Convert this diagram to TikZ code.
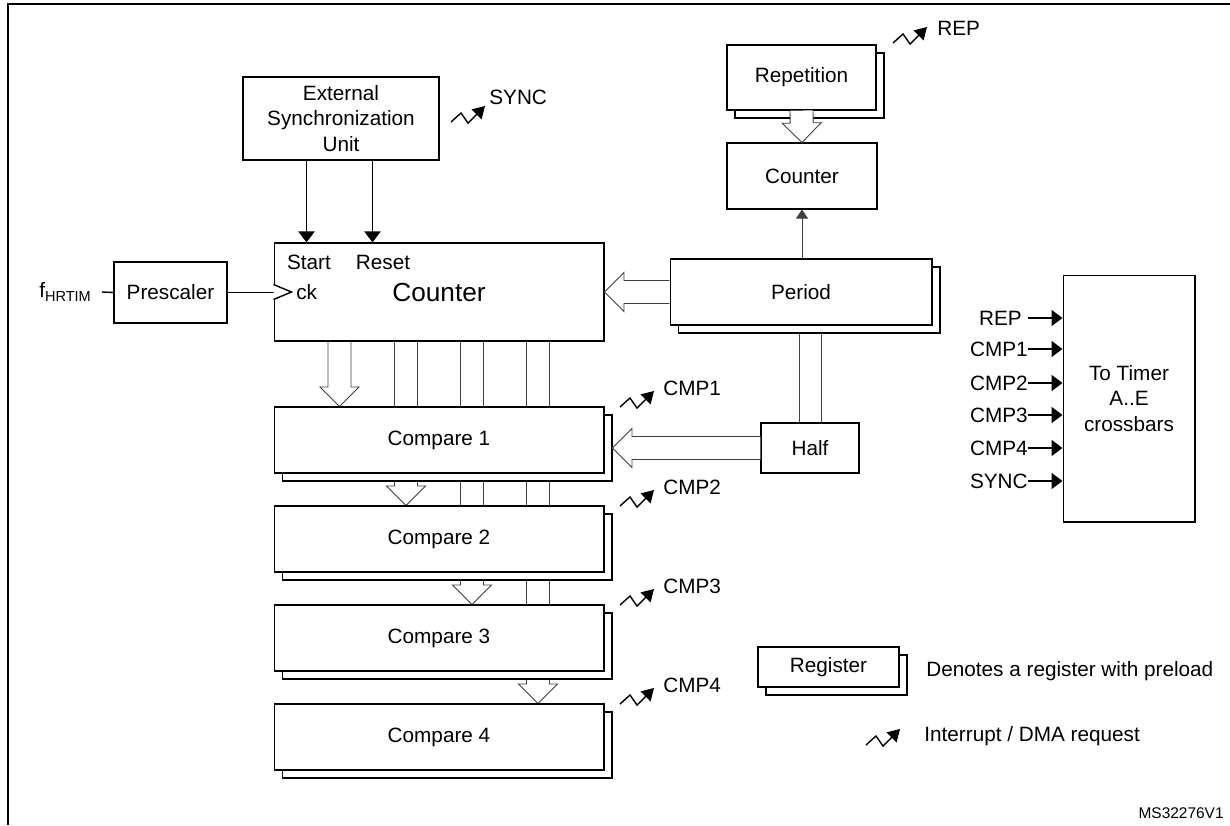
\documentclass[tikz,border=0pt]{standalone}
\usepackage{fontspec}
\setmainfont{Liberation Sans}
\usetikzlibrary{arrows.meta}
\usetikzlibrary{calc}
\usetikzlibrary{shadows}
\usetikzlibrary{backgrounds}
\tikzstyle{blk} = [rectangle, draw, fill=white, line width=0.6pt, inner sep=0pt, align=center]
\tikzstyle{reg} = [blk, copy shadow={shadow xshift=0.16cm, shadow yshift=-0.16cm}]
\tikzstyle{lbl} = [inner sep=0pt]
\tikzstyle{sig} = [line width=1pt, -{Triangle[width=0.32cm,length=0.22cm]}]
\tikzstyle{bus} = [draw=black!75, line width=0.5pt]
\tikzstyle{fat} = [draw=black!75, fill=white, line width=0.5pt]
\newcommand{\fatw}{0.23cm}
\newcommand{\fath}{0.39cm}
\newcommand{\fatl}{0.39cm}
% hollow bus arrow from #1 to #2
\newcommand{\fatarrow}[2]{%
  \coordinate (fa-s) at #1;
  \coordinate (fa-e) at #2;
  \coordinate (fa-h) at ($(fa-e)!\fatl!(fa-s)$);
  \filldraw[fat] ($(fa-s)!\fatw!90:(fa-e)$) -- ($(fa-h)!\fatw!90:(fa-e)$)
    -- ($(fa-h)!\fath!90:(fa-e)$) -- (fa-e) -- ($(fa-h)!\fath!-90:(fa-e)$)
    -- ($(fa-h)!\fatw!-90:(fa-e)$) -- ($(fa-s)!\fatw!-90:(fa-e)$);
}

\begin{document}
\begin{tikzpicture}
  [x=0.02cm, y=-0.02cm,
  font=\fontsize{11.8}{14.5}\selectfont,
  irq/.pic={\draw[line width=0.8pt, -{Triangle[width=0.28cm,length=0.24cm]}] (0,0) -- (10,-9) -- (17,1) -- (34,-16);}
  ]
  \useasboundingbox (0,0) rectangle (1230,825);
  \draw[line width=1.1pt] (8,825) -- (8,4) -- (1230,4);

  % blocks
  \draw (341,118.5) node[blk, minimum width=3.92cm, minimum height=1.66cm](esu){External\\Synchronization\\Unit};
  \draw (170.5,292.5) node[blk, minimum width=2.26cm, minimum height=1.22cm](pre){Prescaler};
  \draw (439,292) node[blk, minimum width=6.6cm, minimum height=1.96cm](cnt){};
  \draw (439,292) node[font=\fontsize{14.9}{17}\selectfont](cnttxt){Counter};
  \draw (309,262) node(start){Start};
  \draw (383,262) node(reset){Reset};
  \draw (296,292) node[anchor=west, lbl](ck){ck};
  \foreach \n/\yy in {1/440, 2/539, 3/638, 4/737}
    \draw (439,\yy) node[reg, minimum width=6.6cm, minimum height=1.32cm](comp\n){Compare \n};
  \draw (801.5,77.5) node[reg, minimum width=2.98cm, minimum height=1.3cm](rep){Repetition};
  \draw (802,176) node[blk, minimum width=3cm, minimum height=1.32cm](rcnt){Counter};
  \draw (801,292) node[reg, minimum width=5.24cm, minimum height=1.32cm](per){Period};
  \draw (810,448) node[blk, minimum width=1.96cm, minimum height=1cm](half){Half};
  \draw (1129,398.5) node[blk, minimum width=2.64cm, minimum height=4.94cm](xb){To Timer\\A..E\\crossbars};

  % bus lines behind the registers
  \begin{scope}[on background layer]
    \fatarrow{($(cnt.south west)+(66,0)$)}{($(comp1.north west)+(66,0)$)}
    \fatarrow{($(cnt.south west)+(132.5,0)$)}{($(comp2.north west)+(132.5,0)$)}
    \fatarrow{($(cnt.south west)+(198.5,0)$)}{($(comp3.north west)+(198.5,0)$)}
    \fatarrow{($(cnt.south west)+(264.5,0)$)}{($(comp4.north west)+(264.5,0)$)}
    \coordinate (h1) at ($(half.north)+(-11,0)$);
    \coordinate (h2) at ($(half.north)+(11,0)$);
    \draw[bus] (h1) -- (h1 |- per.south);
    \draw[bus] (h2) -- (h2 |- per.south);
  \end{scope}
  \fatarrow{(per.west)}{(cnt.east)}
  \fatarrow{(half.west)}{($(comp1.east)+(8,8)$)}
  \fatarrow{(rep.south)}{(rcnt.north)}
  \draw[bus, -{Triangle[width=0.24cm,length=0.18cm]}] (rcnt.south |- per.north) -- (rcnt.south);

  % clock and sync inputs
  \draw (92,292) node[anchor=east, lbl](fin){f\textsubscript{HRTIM}};
  \draw[line width=0.8pt] ([xshift=0.2cm]fin.east) -- (pre.west);
  \draw[line width=1pt] (pre.east) -- (pre.east -| cnt.west);
  \draw[line width=0.8pt, fill=white] ($(cnt.west)+(0,-7.5)$) -- ($(cnt.west)+(18,0)$) -- ($(cnt.west)+(0,7.5)$);
  \coordinate (e1) at ($(esu.south west)+(64,0)$);
  \coordinate (e2) at ($(esu.south west)+(130,0)$);
  \draw[sig] (e1) -- (e1 |- cnt.north);
  \draw[sig] (e2) -- (e2 |- cnt.north);

  % interrupt requests
  \pic at (451,122) {irq};
  \draw (489,97) node[anchor=west, lbl](sync){SYNC};
  \pic at (893,43) {irq};
  \draw (937,28) node[anchor=west, lbl](replbl){REP};
  \foreach \n/\yy in {1/407, 2/506, 3/605, 4/704}{
    \pic at (620,\yy) {irq};
    \draw (663,\yy-19) node[anchor=west, lbl](lcmp\n){CMP\n};
  }

  % crossbar inputs
  \foreach \lab/\yy/\gap in {REP/318/6, CMP1/349/0, CMP2/383/0, CMP3/415/0, CMP4/448/0, SYNC/481/0}{
    \draw (1028-\gap,\yy) node[anchor=east, lbl](x\lab){\lab};
    \draw[sig] ([xshift=\gap*0.02cm]x\lab.east) -- (xb.west |- x\lab.east);
  }

  % legend
  \draw (828.5,667) node[reg, minimum width=2.82cm, minimum height=0.8cm](legreg){Register};
  \draw (926,671) node[anchor=west, lbl](legregtxt){Denotes a register with preload};
  \pic at (866,745) {irq};
  \draw (924,736) node[anchor=west, lbl](legirqtxt){Interrupt / DMA request};
  \draw (1224,813) node[anchor=east, lbl, font=\fontsize{8.8}{10}\selectfont](ms){MS32276V1};
\end{tikzpicture}
\end{document}
